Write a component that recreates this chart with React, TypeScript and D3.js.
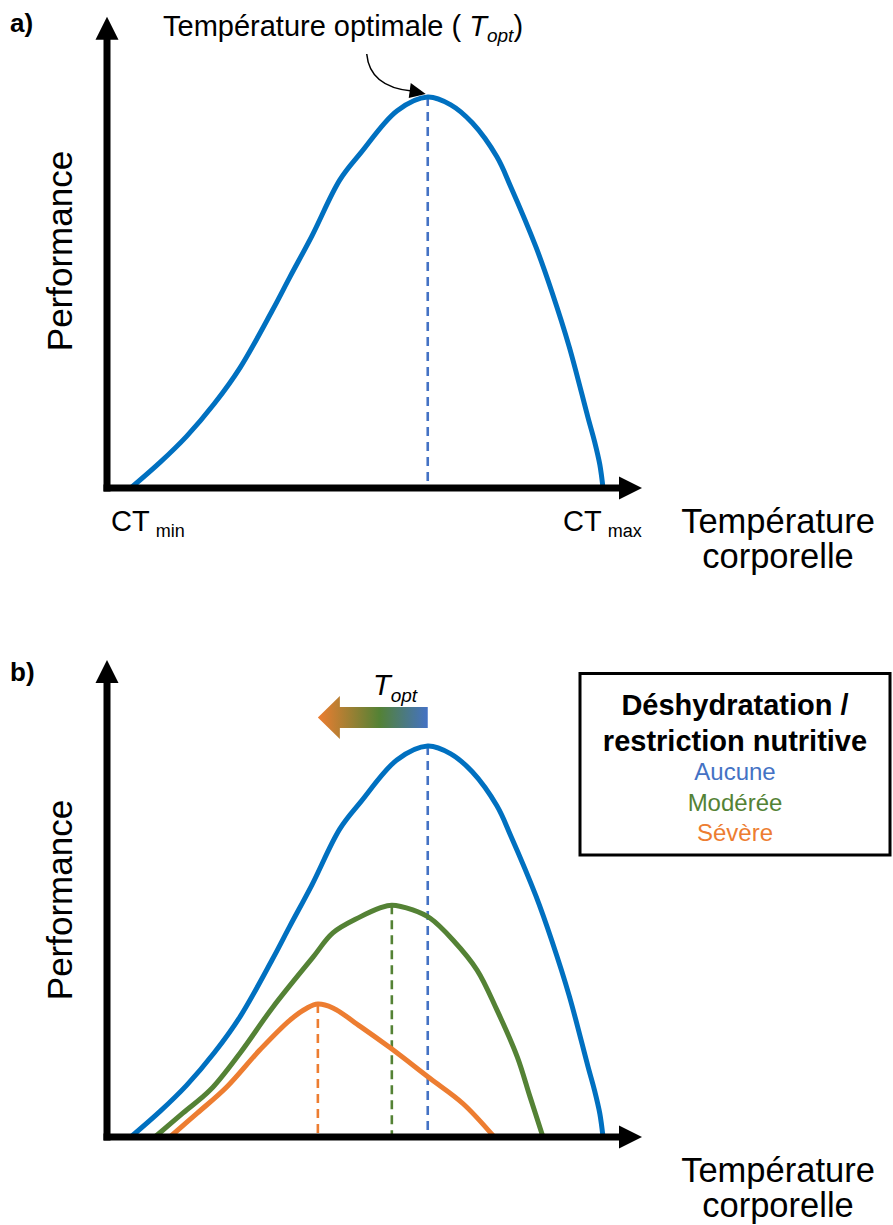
import React from 'react';
import * as d3 from 'd3';

// températures (unités arbitraires 0-10) et performances (0-100 = pic max)
const TEMP_AUCUNE = [0.5, 1.05, 1.54, 2.06, 2.54, 3.14, 3.47, 3.88, 4.4, 4.79, 5.47, 6.04, 6.47, 6.87, 7.33, 7.59, 8.06, 8.36, 8.68, 9.03, 9.15, 9.25, 9.31];
const PERF_AUCUNE = [0, 6.6, 13.2, 21.6, 30.8, 45.4, 54, 64.5, 78.8, 85.7, 96.5, 100, 98, 93.4, 84.7, 77, 61.6, 50, 36.1, 18, 12, 6, 0];

const TEMP_MODEREE = [0.95, 1.47, 1.98, 2.54, 3.15, 3.9, 4.27, 4.78, 5.15, 5.37, 5.76, 6.08, 6.51, 6.96, 7.33, 7.71, 7.95, 8.19];
const PERF_MODEREE = [0, 6.1, 12, 21.5, 33.2, 46, 52.2, 56.3, 58.6, 59.3, 58.1, 56, 50.4, 42.7, 32.5, 20.5, 10.2, 0];

const TEMP_SEVERE = [1.23, 1.74, 2.29, 2.91, 3.47, 3.79, 3.99, 4.27, 4.78, 5.34, 6.08, 6.7, 7.28];
const PERF_SEVERE = [0, 6.1, 12.8, 22.3, 29.9, 33, 34, 33, 28.3, 22.8, 15, 8.5, 0];

// Topt de chaque courbe
const OPT_T = [6.04, 5.37, 3.99];
const OPT_P = [100, 59.3, 34];

const LEGEND_TITLE = ['Déshydratation /', 'restriction nutritive'];
const LEGEND_LABELS = ['Aucune', 'Modérée', 'Sévère'];

const CURVE_COLORS = ['#0070C0', '#548235', '#ED7D31'];
const DASH_COLORS = ['#4472C4', '#548235', '#ED7D31'];
const LEGEND_COLORS = ['#4472C4', '#548235', '#ED7D31'];

const FONT = '"Liberation Sans", Arial, Helvetica, sans-serif';

const W = 893;
const H = 1225;
const AXIS_W = 7;

const xScale = d3.scaleLinear().domain([0, 10]).range([104, 640]);
const makeY = (base: number) => d3.scaleLinear().domain([0, 100]).range([base, base - 391]);

const series = [
  { t: TEMP_AUCUNE, p: PERF_AUCUNE },
  { t: TEMP_MODEREE, p: PERF_MODEREE },
  { t: TEMP_SEVERE, p: PERF_SEVERE },
];

function Axes({ y, topP }: { y: d3.ScaleLinear<number, number>; topP: number }) {
  const x0 = xScale(0) + AXIS_W / 2 - 0.5;
  const y0 = y(0);
  const xTip = xScale(10) + 2;
  const yTip = y(topP);
  return (
    <g>
      <line x1={x0} x2={x0} y1={y0 + AXIS_W / 2} y2={yTip + 20} stroke="#000" strokeWidth={AXIS_W} />
      <path d={`M${x0},${yTip} L${x0 + 11.5},${yTip + 23} L${x0 - 11.5},${yTip + 23} Z`} fill="#000" />
      <line x1={xScale(0) - 0.5} x2={xTip - 20} y1={y0} y2={y0} stroke="#000" strokeWidth={AXIS_W} />
      <path d={`M${xTip},${y0} L${xTip - 23},${y0 - 11.5} L${xTip - 23},${y0 + 11.5} Z`} fill="#000" />
    </g>
  );
}

function Curve({ i, y }: { i: number; y: d3.ScaleLinear<number, number> }) {
  const s = series[i];
  const line = d3
    .line<number>()
    .x((d) => xScale(s.t[d]))
    .y((d) => y(s.p[d]))
    .curve(d3.curveCatmullRom.alpha(0.5));
  return (
    <path d={line(d3.range(s.t.length)) || ''} fill="none" stroke={CURVE_COLORS[i]} strokeWidth={5} strokeLinejoin="round" />
  );
}

function OptLine({ i, y }: { i: number; y: d3.ScaleLinear<number, number> }) {
  const x = xScale(OPT_T[i]);
  return (
    <line x1={x} x2={x} y1={y(OPT_P[i])} y2={y(0)} stroke={DASH_COLORS[i]} strokeWidth={2.6} strokeDasharray="9,6" />
  );
}

function AxisLabels({ y, label }: { y: d3.ScaleLinear<number, number>; label: string }) {
  const base = y(0);
  return (
    <g fontFamily={FONT} fill="#000">
      <text x={10} y={base - 456} fontSize={26} fontWeight="bold">{label}</text>
      <text transform={`rotate(-90)`} x={-(base - 237)} y={72} fontSize={35} textAnchor="middle">Performance</text>
      <text x={778} y={base + 45} fontSize={34.5} textAnchor="middle">Température</text>
      <text x={778} y={base + 80} fontSize={34.5} textAnchor="middle">corporelle</text>
    </g>
  );
}

export default function App() {
  const yA = makeY(488);
  const yB = makeY(1137);

  // annotation Topt (panneau a)
  const px = xScale(OPT_T[0]);
  const py = yA(OPT_P[0]);
  const ann = d3.path();
  ann.moveTo(px - 61, py - 43);
  ann.quadraticCurveTo(px - 58, py - 10, px - 16, py - 6);

  // flèche dégradée (panneau b)
  const arrEnd = xScale(OPT_T[0]);
  const arrTip = xScale(OPT_T[2]);
  const arrY = yB(107.3);
  const headX = arrTip + 22;
  const arrowPath = `M${arrTip},${arrY} L${headX},${arrY - 21.5} L${headX},${arrY - 10.5} L${arrEnd},${arrY - 10.5} L${arrEnd},${arrY + 10.5} L${headX},${arrY + 10.5} L${headX},${arrY + 21.5} Z`;

  return (
    <svg width={W} height={H} style={{ position: 'absolute', left: 0, top: 0, background: '#fff' }}>
      <defs>
        <linearGradient id="toptGrad" gradientUnits="userSpaceOnUse" x1={arrTip} x2={arrEnd} y1={0} y2={0}>
          <stop offset="0" stopColor="#ED7D31" />
          <stop offset="0.56" stopColor="#548235" />
          <stop offset="1" stopColor="#4472C4" />
        </linearGradient>
      </defs>

      {/* Panneau a */}
      <OptLine i={0} y={yA} />
      <Curve i={0} y={yA} />
      <Axes y={yA} topP={120.5} />
      <AxisLabels y={yA} label="a)" />
      <g fontFamily={FONT} fill="#000">
        <text x={111} y={531} fontSize={29}>CT<tspan fontSize={18} dx={6} dy={6}>min</tspan></text>
        <text x={563} y={531} fontSize={29}>CT<tspan fontSize={18} dx={6} dy={6}>max</tspan></text>
        <text x={163} y={36} fontSize={29}>
          Température optimale ({' '}
          <tspan fontStyle="italic">T</tspan>
          <tspan fontStyle="italic" fontSize={19} dy={6}>opt</tspan>
          <tspan dy={-6}>)</tspan>
        </text>
      </g>
      <path d={ann.toString()} fill="none" stroke="#000" strokeWidth={1.5} />
      <path d={`M${px - 2},${py - 3} L${px - 17},${py - 14} L${px - 19},${py + 1} Z`} fill="#000" />

      {/* Panneau b */}
      {[0, 1, 2].map((i) => (
        <OptLine key={`d${i}`} i={i} y={yB} />
      ))}
      {[0, 1, 2].map((i) => (
        <Curve key={`c${i}`} i={i} y={yB} />
      ))}
      <Axes y={yB} topP={122} />
      <AxisLabels y={yB} label="b)" />

      <path d={arrowPath} fill="url(#toptGrad)" />
      <text x={373} y={695} fontFamily={FONT} fontSize={29} fontStyle="italic">
        T<tspan fontSize={19} dy={7}>opt</tspan>
      </text>

      <rect x={580} y={673.5} width={310} height={181.5} fill="#fff" stroke="#000" strokeWidth={3} />
      <g fontFamily={FONT} textAnchor="middle">
        {LEGEND_TITLE.map((t, i) => (
          <text key={t} x={735} y={715 + i * 36} fontSize={29} fontWeight="bold" fill="#000">{t}</text>
        ))}
        {LEGEND_LABELS.map((t, i) => (
          <text key={t} x={735} y={780 + i * 30.5} fontSize={24} fill={LEGEND_COLORS[i]}>{t}</text>
        ))}
      </g>
    </svg>
  );
}
